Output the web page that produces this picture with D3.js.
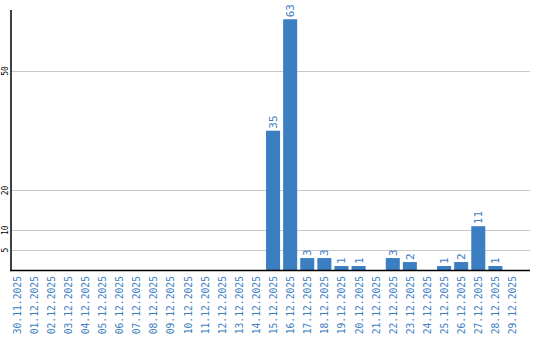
<!DOCTYPE html>
<html><head><meta charset="utf-8">
<script src="https://cdn.jsdelivr.net/npm/d3@7"></script>
<style>body{margin:0;background:#fff}</style>
</head><body>
<svg id="c" width="540" height="340"></svg>
<script>
const categories = ["30.11.2025","01.12.2025","02.12.2025","03.12.2025","04.12.2025","05.12.2025","06.12.2025","07.12.2025","08.12.2025","09.12.2025","10.12.2025","11.12.2025","12.12.2025","13.12.2025","14.12.2025","15.12.2025","16.12.2025","17.12.2025","18.12.2025","19.12.2025","20.12.2025","21.12.2025","22.12.2025","23.12.2025","24.12.2025","25.12.2025","26.12.2025","27.12.2025","28.12.2025","29.12.2025"];
const values = [0,0,0,0,0,0,0,0,0,0,0,0,0,0,0,35,63,3,3,1,1,0,3,2,0,1,2,11,1,0];
const yTicks = [5,10,20,50];

const svg = d3.select("#c");
const blue = "#3b7ec2";
const x = d3.scaleBand().domain(categories).range([9.5, 519.5]).paddingInner(0.18).paddingOuter(0);
const y = d3.scaleLinear().domain([0, 50]).range([270, 71]);

// gridlines
svg.append("g").selectAll("line").data(yTicks).join("line")
  .attr("x1", 11).attr("x2", 530)
  .attr("y1", d => Math.round(y(d)) + 0.5).attr("y2", d => Math.round(y(d)) + 0.5)
  .attr("stroke", "#c8c8c8").attr("stroke-width", 1);

// y tick labels
svg.append("g").selectAll("text").data(yTicks).join("text")
  .attr("transform", d => `translate(8,${y(d)}) rotate(-90)`)
  .attr("text-anchor", "middle")
  .attr("font-family", "DejaVu Sans Mono").attr("font-size", 8)
  .attr("fill", "#000").text(d => d);

// bars
svg.append("g").selectAll("rect").data(values.map((v, i) => ({c: categories[i], v}))).join("rect")
  .attr("x", d => x(d.c)).attr("width", x.bandwidth())
  .attr("y", d => y(d.v)).attr("height", d => y(0) - y(d.v))
  .attr("fill", blue);

// value labels
svg.append("g").selectAll("text").data(values.map((v, i) => ({c: categories[i], v})).filter(d => d.v > 0)).join("text")
  .attr("transform", d => `translate(${x(d.c) + x.bandwidth() / 2 + 4},${y(d.v) - 2}) rotate(-90)`)
  .attr("text-anchor", "start")
  .attr("font-family", "DejaVu Sans Mono").attr("font-size", 11)
  .attr("fill", blue).text(d => d.v);

// x labels
svg.append("g").selectAll("text").data(categories).join("text")
  .attr("transform", d => `translate(${x(d) + x.bandwidth() / 2 + 4},276) rotate(-90)`)
  .attr("text-anchor", "end")
  .attr("font-family", "DejaVu Sans Mono").attr("font-size", 9.7)
  .attr("fill", blue).text(d => d);

// axes lines
svg.append("line").attr("x1", 11).attr("x2", 11).attr("y1", 10).attr("y2", 270.5)
  .attr("stroke", "#000").attr("stroke-width", 1.5);
svg.append("line").attr("x1", 10).attr("x2", 530).attr("y1", 270.5).attr("y2", 270.5)
  .attr("stroke", "#000").attr("stroke-width", 1.5);
</script>
</body></html>
